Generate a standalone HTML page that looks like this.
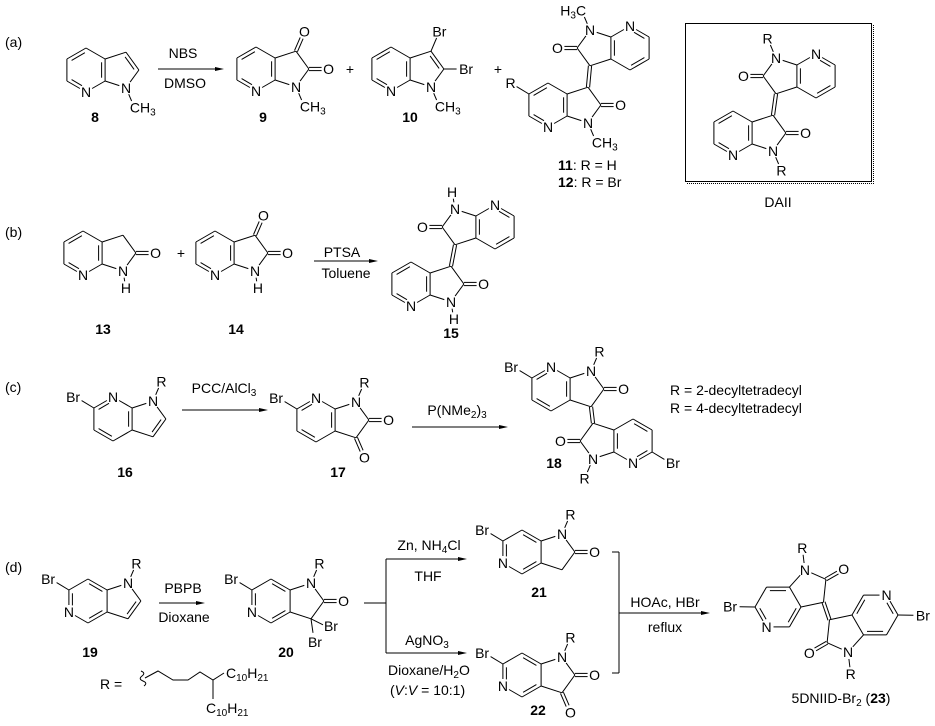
<!DOCTYPE html>
<html><head><meta charset="utf-8"><style>
html,body{margin:0;padding:0;background:#fff;}
svg{display:block}
text{font-family:"Liberation Sans",Arial,sans-serif;font-size:14px;fill:#000}
.b{font-weight:bold}
line,polyline,path{stroke:#000;stroke-width:1;fill:none}
</style></head><body>
<svg id="s" width="935" height="726" viewBox="0 0 935 726" xmlns="http://www.w3.org/2000/svg"></svg>
<script>
const P={a4:[0,-1],a5:[-.866,-.5],a6:[-.866,.5],a7:[0,1],a7a:[.866,.5],a3a:[.866,-.5],
a1:[1.817,.809],a2:[2.405,0],a3:[1.817,-.809],o2:[3.3,0],o3:[2.2,-1.7],s1:[2.2,1.7],
s6:[-1.7,1],s5:[-1.7,-1],sH:[1.95,1.6]};
const CORE=[['a4','a5'],['a5','a6'],['a6','a7'],['a7','a7a'],['a7a','a3a'],['a3a','a4'],['a7a','a1'],['a1','a2'],['a2','a3'],['a3','a3a']];
const AZ7=[['a4','a5','h'],['a6','a7','h'],['a7a','a3a','h']];
const AZ5=[['a7','a7a','h'],['a5','a6','h'],['a4','a3a','h']];
const PYR=['a2','a3','p'];
const s3='<tspan font-size="10" baseline-shift="-3">3</tspan>';
let out='';
function L(x1,y1,x2,y2){out+=`<line x1="${x1.toFixed(1)}" y1="${y1.toFixed(1)}" x2="${x2.toFixed(1)}" y2="${y2.toFixed(1)}"/>`;}
function T(x,y,s,a,c){out+=`<text x="${x}" y="${y}" text-anchor="${a||'middle'}" class="${c||''}">${s}</text>`;}
function D(A,B,d){let dx=B[0]-A[0],dy=B[1]-A[1],l=Math.hypot(dx,dy),nx=-dy/l*d,ny=dx/l*d;
 L(A[0]+nx,A[1]+ny,B[0]+nx,B[1]+ny);L(A[0]-nx,A[1]-ny,B[0]-nx,B[1]-ny);}
function arr(x1,y,x2){L(x1,y,x2-6,y);out+=`<polygon points="${x2-9},${y-2} ${x2},${y} ${x2-9},${y+2}" fill="#000"/>`;}
function mol(o){
 const b=o.b||22,fx=o.fx||1,fy=o.fy||1,r=(o.rot||0)*Math.PI/180,c=Math.cos(r),s=Math.sin(r);
 const tr=p=>{let x=p[0]*fx,y=p[1]*fy;return [o.cx+(x*c-y*s)*b,o.cy+(x*s+y*c)*b];};
 const pos=k=>tr(P[k]);const lab=o.lab||{};
 const sh=(A,B,k)=>{if(!lab[k])return A;let dx=B[0]-A[0],dy=B[1]-A[1],l=Math.hypot(dx,dy);return [A[0]+dx/l*7,A[1]+dy/l*7];};
 for(const [p,q,t] of CORE.concat(o.extra||[])){let A=pos(p),B=pos(q);let A2=sh(A,B,p),B2=sh(B,A,q);
  if(t==='c')D(A2,B2,1.6);else L(A2[0],A2[1],B2[0],B2[1]);}
 for(const [p,q,g] of (o.dbl||[])){let A=pos(p),B=pos(q),C=tr(g==='h'?[0,0]:[1.52,0]);
  let dx=B[0]-A[0],dy=B[1]-A[1],l=Math.hypot(dx,dy),nx=-dy/l,ny=dx/l;
  let mx=(A[0]+B[0])/2,my=(A[1]+B[1])/2; if((C[0]-mx)*nx+(C[1]-my)*ny<0){nx=-nx;ny=-ny;}
  let f=lab[p]?0.3:0.15,g2=lab[q]?0.3:0.15;
  L(A[0]+dx*f+nx*3.5,A[1]+dy*f+ny*3.5,B[0]-dx*g2+nx*3.5,B[1]-dy*g2+ny*3.5);}
 for(const k in lab){let v=lab[k],t=v,a='c';if(Array.isArray(v)){t=v[0];a=v[1];}
  let p=pos(k);let x=p[0],an='middle';if(a==='s'){x-=4.5;an='start';}if(a==='e'){x+=4.5;an='end';}
  T(x.toFixed(1),(p[1]+5).toFixed(1),t,an);}
 return pos;
}
const CH3=['CH'+s3,'s'];
// (a)
T(5,47,'(a)','start');
mol({cx:86,cy:70,lab:{a7:'N',a1:'N',s1:CH3},extra:[['a1','s1']],dbl:AZ7.concat([PYR])});
arr(158,69,224);T(183,58,'NBS');T(185,88,'DMSO');
mol({cx:256,cy:69,lab:{a7:'N',a1:'N',s1:CH3,o2:'O',o3:'O'},extra:[['a1','s1'],['a2','o2','c'],['a3','o3','c']],dbl:AZ7});
T(350,74,'+');
mol({cx:391,cy:69,lab:{a7:'N',a1:'N',s1:CH3,o2:['Br','s'],o3:'Br'},extra:[['a1','s1'],['a2','o2'],['a3','o3']],dbl:AZ7.concat([PYR])});
T(498,74,'+');
T(95,122,'8','middle','b');T(263,122,'9','middle','b');T(410,122,'10','middle','b');
let t1=mol({cx:630,cy:48,fx:-1,fy:-1,lab:{a7:'N',a1:'N',s1:['H'+s3+'C','e'],o2:'O'},extra:[['a1','s1'],['a2','o2','c']],dbl:AZ7});
let t2=mol({cx:548,cy:105,lab:{a7:'N',a1:'N',s1:CH3,o2:'O',s5:'R'},extra:[['a1','s1'],['a2','o2','c'],['a5','s5']],dbl:AZ7});
D(t1('a3'),t2('a3'),1.6);
T(558,170,'<tspan class="b" font-weight="bold">11</tspan>: R = H','start');
T(558,187,'<tspan font-weight="bold">12</tspan>: R = Br','start');
out+='<rect x="685.5" y="23.5" width="186" height="158" fill="none" stroke="#000"/>';
out+='<path d="M873.5,25 V183.5 H687" stroke="#888" stroke-dasharray="1,1"/>';
let d1=mol({cx:816,cy:76,fx:-1,fy:-1,lab:{a7:'N',a1:'N',s1:'R',o2:'O'},extra:[['a1','s1'],['a2','o2','c']],dbl:AZ7});
let d2=mol({cx:733,cy:133,lab:{a7:'N',a1:'N',s1:'R',o2:'O'},extra:[['a1','s1'],['a2','o2','c']],dbl:AZ7});
D(d1('a3'),d2('a3'),1.6);
T(778,207,'DAII');
// (b)
T(5,237,'(b)','start');
mol({cx:83,cy:253,lab:{a7:'N',a1:'N',sH:'H',o2:'O'},extra:[['a1','sH'],['a2','o2','c']],dbl:AZ7});
T(181,258,'+');
mol({cx:215,cy:253,lab:{a7:'N',a1:'N',sH:'H',o2:'O',o3:'O'},extra:[['a1','sH'],['a2','o2','c'],['a3','o3','c']],dbl:AZ7});
arr(314,261,378);T(342,257,'PTSA');T(346,278,'Toluene');
let f1=mol({cx:495,cy:227,fx:-1,fy:-1,lab:{a7:'N',a1:'N',sH:'H',o2:'O'},extra:[['a1','sH'],['a2','o2','c']],dbl:AZ7});
let f2=mol({cx:411,cy:284,lab:{a7:'N',a1:'N',sH:'H',o2:'O'},extra:[['a1','sH'],['a2','o2','c']],dbl:AZ7});
D(f1('a3'),f2('a3'),1.6);
T(103,334,'13','middle','b');T(236,334,'14','middle','b');T(451,338,'15','middle','b');
// (c)
T(5,392,'(c)','start');
mol({cx:113,cy:419,fy:-1,lab:{a7:'N',a1:'N',s1:'R',s6:['Br','e']},extra:[['a1','s1'],['a6','s6']],dbl:AZ7.concat([PYR])});
arr(182,410,268);T(224,393,'PCC/AlCl'+s3);
mol({cx:316,cy:420,fy:-1,lab:{a7:'N',a1:'N',s1:'R',s6:['Br','e'],o2:'O',o3:'O'},extra:[['a1','s1'],['a6','s6'],['a2','o2','c'],['a3','o3','c']],dbl:AZ7});
arr(412,427,508);T(457,415,'P(NMe<tspan font-size="10" baseline-shift="-3">2</tspan>)'+s3);
let e1=mol({cx:551,cy:389,fy:-1,lab:{a7:'N',a1:'N',s1:'R',s6:['Br','e'],o2:'O'},extra:[['a1','s1'],['a6','s6'],['a2','o2','c']],dbl:AZ7});
let e2=mol({cx:633,cy:441,fx:-1,lab:{a7:'N',a1:'N',s1:'R',s6:['Br','s'],o2:'O'},extra:[['a1','s1'],['a6','s6'],['a2','o2','c']],dbl:AZ7});
D(e1('a3'),e2('a3'),1.6);
T(670,395,'R = 2-decyltetradecyl','start');T(670,413,'R = 4-decyltetradecyl','start');
T(125,477,'16','middle','b');T(338,477,'17','middle','b');T(554,468,'18','middle','b');
// (d)
T(5,572,'(d)','start');
mol({cx:88,cy:601,fy:-1,lab:{a5:'N',a1:'N',s1:'R',s6:['Br','e']},extra:[['a1','s1'],['a6','s6']],dbl:AZ5.concat([PYR])});
arr(159,603,205);T(183,593,'PBPB');T(184,622,'Dioxane');
let g=mol({cx:271,cy:601,fy:-1,lab:{a5:'N',a1:'N',s1:'R',s6:['Br','e'],o2:'O'},extra:[['a1','s1'],['a6','s6'],['a2','o2','c']],dbl:AZ5});
let c3=g('a3');L(c3[0],c3[1],c3[0]+12,c3[1]+6);L(c3[0],c3[1],c3[0]+2,c3[1]+14);
T(c3[0]+13,c3[1]+12,'Br','start');T(c3[0]+4,c3[1]+28,'Br');
T(90,657,'19','middle','b');T(286,657,'20','middle','b');
// R chain
T(100,689,'R =','start');
out+='<path d="M141,671 q5,2 1,5 q-4,3 1,5 q5,2 1,5"/>';
out+='<polyline points="145,678 158,671 173,680 188,680 200,672 213,680 224,673"/>';
L(213,680,213,699);
const s10='<tspan font-size="10" baseline-shift="-3">10</tspan>',s21='<tspan font-size="10" baseline-shift="-3">21</tspan>';
T(226,678,'C'+s10+'H'+s21,'start');T(206,713,'C'+s10+'H'+s21,'start');
// branch
L(364,603,386,603);L(386,559,386,653);arr(386,559,467);arr(386,653,467);
T(429,550,'Zn, NH<tspan font-size="10" baseline-shift="-3">4</tspan>Cl');T(428,581,'THF');
T(427,645,'AgNO'+s3);T(388,675,'Dioxane/H<tspan font-size="10" baseline-shift="-3">2</tspan>O','start');
T(390,695,'(<tspan font-style="italic">V</tspan>:<tspan font-style="italic">V</tspan> = 10:1)','start');
mol({cx:522,cy:552,fy:-1,lab:{a5:'N',a1:'N',s1:'R',s6:['Br','e'],o2:'O'},extra:[['a1','s1'],['a6','s6'],['a2','o2','c']],dbl:AZ5});
mol({cx:522,cy:675,fy:-1,lab:{a5:'N',a1:'N',s1:'R',s6:['Br','e'],o2:'O',o3:'O'},extra:[['a1','s1'],['a6','s6'],['a2','o2','c'],['a3','o3','c']],dbl:AZ5});
T(539,597,'21','middle','b');T(538,715,'22','middle','b');
L(612,552,619,552);L(619,552,619,673);L(612,673,619,673);
arr(619,613,710);T(665,607,'HOAc, HBr');T(665,632,'reflux');
let h1=mol({cx:778,cy:607,fy:-1,rot:-30,b:23,lab:{a5:'N',a1:'N',s1:'R',s6:['Br','e'],o2:'O'},extra:[['a1','s1'],['a6','s6'],['a2','o2','c']],dbl:AZ5});
let h2=mol({cx:875,cy:615,fx:-1,rot:-30,b:23,lab:{a5:'N',a1:'N',s1:'R',s6:['Br','s'],o2:'O'},extra:[['a1','s1'],['a6','s6'],['a2','o2','c']],dbl:AZ5});
D(h1('a3'),h2('a3'),1.6);
T(841,703,'5DNIID-Br<tspan font-size="10" baseline-shift="-3">2</tspan> (<tspan font-weight="bold">23</tspan>)');
document.getElementById('s').innerHTML=out;
</script>
</body></html>
